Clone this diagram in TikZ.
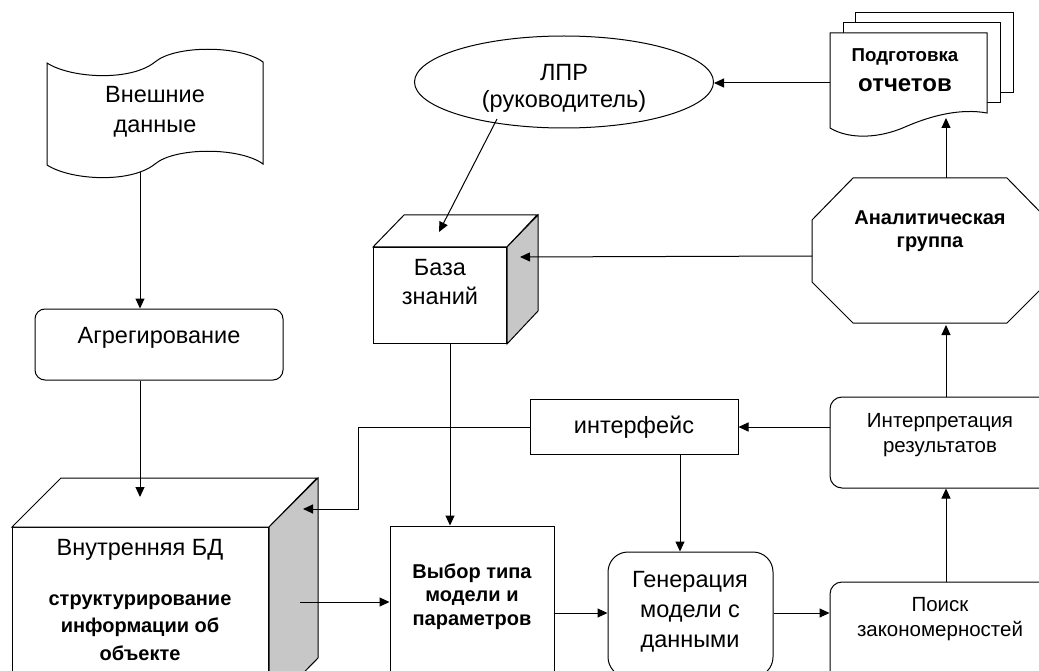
\documentclass[tikz,border=0pt]{standalone}
\usepackage{fontspec}
\setmainfont{Liberation Sans}
\usetikzlibrary{arrows.meta,shapes.geometric,calc}
\begin{document}
\begin{tikzpicture}[x=1pt,y=-1pt,line width=1pt,
  arr/.style={-{Triangle[length=10pt,width=9pt]}},
  box/.style={draw,rectangle,inner sep=0pt,fill=white},
  rbox/.style={draw,rectangle,inner sep=0pt,fill=white,rounded corners=#1},
  txt/.style={inner sep=0pt,align=center},
  big/.style={txt,font=\fontsize{23.5}{30}\selectfont},
  mid/.style={txt,font=\fontsize{20.5}{25}\selectfont},
  bbold/.style={txt,font=\fontsize{20}{23.5}\selectfont\bfseries},
  side/.style={draw,fill=black!22}]
\useasboundingbox (0,0) rectangle (1039,671);
\clip (0,0) rectangle (1039,671);
\fill[white] (0,0) rectangle (1039,671);

% external data (wavy flag)
\draw[fill=white] (47,63) .. controls (70,78) and (130,82) .. (155,62)
  .. controls (175,45) and (240,45) .. (263,62) -- (263,164)
  .. controls (240,147) and (175,147) .. (155,164)
  .. controls (130,184) and (70,180) .. (47,165) -- cycle;
\node[big] (ext) at (155,112) {Внешние\\данные};
\coordinate (extb) at (140,172);

% aggregation
\node[rbox=10,minimum width=248,minimum height=71] (agg) at (159,344.5) {};
\node[big] (aggT) at (159,338) {Агрегирование};

% internal DB cube
\node[box,minimum width=256,minimum height=180,anchor=north west] (intdb) at (12,527) {};
\draw[fill=white] (intdb.north west) -- ++(49,-49) -- ++(256,0) -- (intdb.north east) -- cycle;
\draw[side] (intdb.north east) -- ++(49,-49) -- ++(0,180) -- (intdb.south east) -- cycle;
\node[big] (intT) at (140,550) {Внутренняя БД};
\node[txt,font=\fontsize{20}{27.5}\selectfont\bfseries] (intB) at (140,627.5) {структурирование\\информации об\\объекте};
\coordinate (intin) at (140,497);
\coordinate (intside) at (303,509);
\coordinate (intout) at (300,602);

% knowledge base cube
\node[box,minimum width=133,minimum height=96,anchor=north west] (kb) at (373,247) {};
\draw[fill=white] (kb.north west) -- ++(31,-32) -- ++(133,0) -- (kb.north east) -- cycle;
\draw[side] (kb.north east) -- ++(31,-32) -- ++(0,96) -- (kb.south east) -- cycle;
\node[big,font=\fontsize{23.5}{29}\selectfont] (kbT) at (440,282.5) {База\\знаний};
\coordinate (kbtop) at (439,232);
\coordinate (kbside) at (520,257);
\coordinate (kbx) at (450,0);

% LPR ellipse
\node[draw,ellipse,fill=white,minimum width=299,minimum height=92,inner sep=0pt] (lpr) at (564,82) {};
\node[big,font=\fontsize{23.5}{27}\selectfont] (lprT) at (564,88.5) {ЛПР\\(руководитель)};
\coordinate (lprs) at (497,119);

% reports (multi-document)
\draw[fill=white] (855,13) rectangle (1013,93);
\draw[fill=white] (843,23) rectangle (1000,103);
\draw[fill=white] (830,33) -- (987,33) -- (987,113)
  .. controls (960,108) and (930,116) .. (905,127)
  .. controls (880,138) and (850,140) .. (830,128) -- cycle;
\node[txt,font=\fontsize{18.7}{22}\selectfont\bfseries] (repA) at (905,57) {Подготовка};
\node[txt,font=\fontsize{24}{28}\selectfont\bfseries] (repB) at (905,85) {отчетов};
\coordinate (repW) at (830,83);
\coordinate (repS) at (946,118);

% analytic group (octagon)
\draw[fill=white] (853,178) -- (1007,178) -- (1048,220) -- (1048,282) -- (1007,323)
  -- (853,323) -- (812,282) -- (812,220) -- cycle;
\node[bbold,font=\fontsize{20}{23}\selectfont\bfseries] (octT) at (930,231.5) {Аналитическая\\группа};
\coordinate (octN) at (946,178);
\coordinate (octS) at (946,325);
\coordinate (octW) at (812,256);

% interface
\node[box,minimum width=208,minimum height=55,font=\fontsize{23.5}{30}\selectfont] (ifc) at (634,427) {интерфейс};
\coordinate (ifcbend) at (358,509);

% choice of model
\node[box,minimum width=164,minimum height=174] (choice) at (472,613) {};
\node[bbold] (choiceT) at (472,596.5) {Выбор типа\\модели и\\параметров};

% generation
\node[rbox=20,minimum width=165,minimum height=125] (gen) at (690.5,614.5) {};
\node[big] (genT) at (690,612) {Генерация\\модели с\\данными};

% search
\node[rbox=12,minimum width=230,minimum height=138] (srch) at (945,651) {};
\node[mid] (srchT) at (940,619.5) {Поиск\\закономерностей};

% interpretation
\node[rbox=12,minimum width=230,minimum height=91] (interp) at (945,442.5) {};
\node[mid] (interpT) at (940,435.5) {Интерпретация\\результатов};

% connectors
\draw[arr] (extb) -- (agg.north -| extb);
\draw[arr] (agg.south -| extb) -- (intin);
\draw[arr] (ifc.west) -| (ifcbend) -- (intside);
\draw[arr] (intout) -- (intout -| choice.west);
\draw[arr] (kb.south -| kbx) -- (choice.north -| kbx);
\draw[arr] (lprs) -- (kbtop);
\draw[arr] (repW) -- (repW -| lpr.east);
\draw[arr] (octN) -- (repS);
\draw[arr] (octW) -- (kbside);
\draw[arr] (interp.north -| octS) -- (octS);
\draw[arr] (ifc.east -| interp.west) -- (ifc.east);
\draw[arr] (ifc.south -| 680,0) -- (gen.north -| 680,0);
\draw[arr] (choice.east) -- (choice.east -| gen.west);
\draw[arr] (choice.east -| gen.east) -- (choice.east -| srch.west);
\draw[arr] (srch.north -| 946,0) -- (interp.south -| 946,0);
\end{tikzpicture}
\end{document}
